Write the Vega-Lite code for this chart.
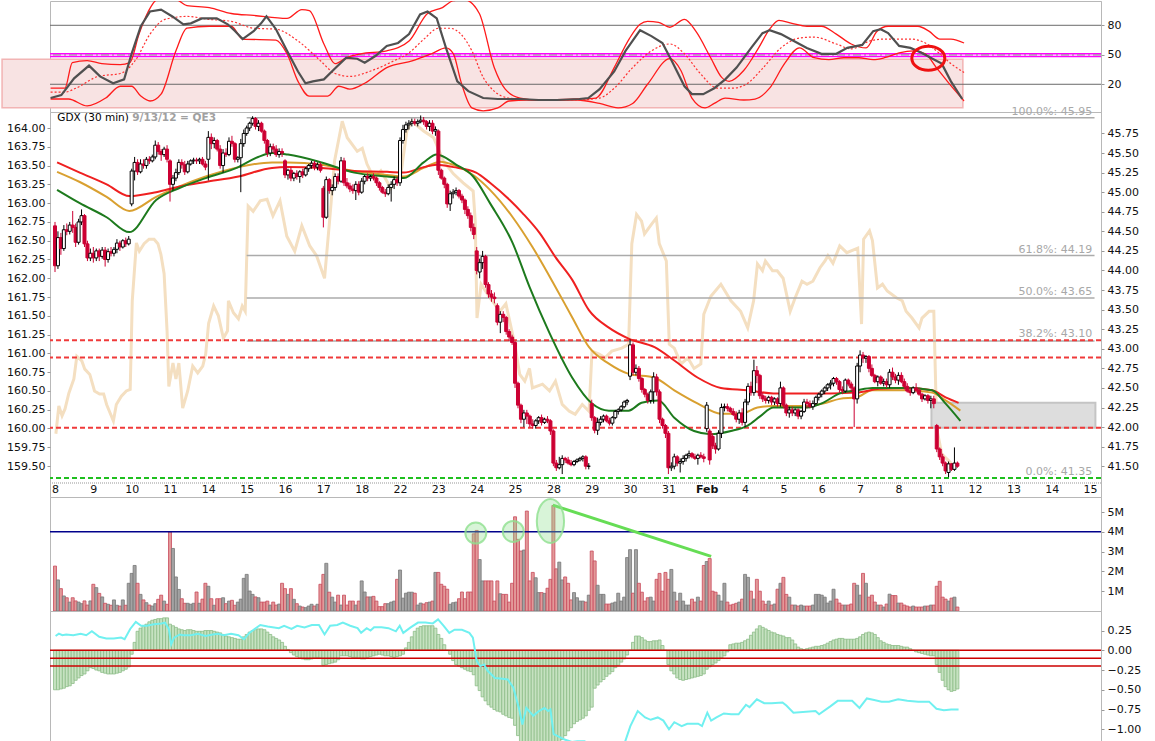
{
  "$schema": "https://vega.github.io/schema/vega-lite/v6.json",
  "padding": 0,
  "spacing": 0,
  "bounds": "flush",
  "background": "white",
  "datasets": {
    "bars": [
      {"t":0,"o":44.57,"h":44.62,"l":43.98,"c":44.06,"v":2.27,"m":-0.5},
      {"t":1,"o":44.06,"h":44.5,"l":44.02,"c":44.42,"v":1.57,"m":-0.5},
      {"t":2,"o":44.42,"h":44.48,"l":44.2,"c":44.28,"v":1.13,"m":-0.49},
      {"t":3,"o":44.28,"h":44.58,"l":44.25,"c":44.52,"v":0.76,"m":-0.48},
      {"t":4,"o":44.52,"h":44.6,"l":44.45,"c":44.5,"v":0.67,"m":-0.46},
      {"t":5,"o":44.5,"h":44.62,"l":44.46,"c":44.58,"v":0.45,"m":-0.45},
      {"t":6,"o":44.58,"h":44.76,"l":44.48,"c":44.55,"v":0.67,"m":-0.42},
      {"t":7,"o":44.55,"h":44.6,"l":44.3,"c":44.36,"v":0.51,"m":-0.38},
      {"t":8,"o":44.36,"h":44.66,"l":44.33,"c":44.62,"v":0.45,"m":-0.35},
      {"t":9,"o":44.62,"h":44.78,"l":44.58,"c":44.7,"v":0.37,"m":-0.32},
      {"t":10,"o":44.7,"h":44.72,"l":44.3,"c":44.34,"v":0.51,"m":-0.3},
      {"t":11,"o":44.34,"h":44.38,"l":44.12,"c":44.16,"v":0.3,"m":-0.26},
      {"t":12,"o":44.16,"h":44.28,"l":44.12,"c":44.22,"v":0.51,"m":-0.22},
      {"t":13,"o":44.22,"h":44.3,"l":44.1,"c":44.16,"v":1.35,"m":-0.23},
      {"t":14,"o":44.16,"h":44.28,"l":44.12,"c":44.25,"v":1.18,"m":-0.25},
      {"t":15,"o":44.25,"h":44.28,"l":44.12,"c":44.18,"v":0.89,"m":-0.26},
      {"t":16,"o":44.18,"h":44.3,"l":44.15,"c":44.26,"v":0.71,"m":-0.28},
      {"t":17,"o":44.26,"h":44.3,"l":44.05,"c":44.14,"v":0.39,"m":-0.29},
      {"t":18,"o":44.14,"h":44.28,"l":44.1,"c":44.24,"v":0.34,"m":-0.3},
      {"t":19,"o":44.24,"h":44.3,"l":44.18,"c":44.22,"v":0.29,"m":-0.3},
      {"t":20,"o":44.22,"h":44.3,"l":44.18,"c":44.27,"v":0.56,"m":-0.3},
      {"t":21,"o":44.27,"h":44.4,"l":44.22,"c":44.35,"v":0.29,"m":-0.29},
      {"t":22,"o":44.35,"h":44.38,"l":44.25,"c":44.3,"v":0.25,"m":-0.28},
      {"t":23,"o":44.3,"h":44.4,"l":44.28,"c":44.38,"v":0.56,"m":-0.26},
      {"t":24,"o":44.38,"h":44.42,"l":44.3,"c":44.34,"v":0.29,"m":-0.24},
      {"t":25,"o":44.34,"h":44.44,"l":44.32,"c":44.4,"v":1.4,"m":-0.21},
      {"t":26,"o":44.85,"h":45.3,"l":44.82,"c":45.27,"v":1.9,"m":-0.05},
      {"t":27,"o":45.27,"h":45.45,"l":45.15,"c":45.38,"v":2.3,"m":0.1},
      {"t":28,"o":45.38,"h":45.42,"l":45.22,"c":45.26,"v":1.4,"m":0.24},
      {"t":29,"o":45.26,"h":45.42,"l":45.24,"c":45.36,"v":0.84,"m":0.28},
      {"t":30,"o":45.36,"h":45.42,"l":45.3,"c":45.34,"v":0.56,"m":0.31},
      {"t":31,"o":45.34,"h":45.45,"l":45.3,"c":45.42,"v":0.42,"m":0.33},
      {"t":32,"o":45.42,"h":45.46,"l":45.36,"c":45.4,"v":0.3,"m":0.36},
      {"t":33,"o":45.4,"h":45.48,"l":45.38,"c":45.45,"v":0.25,"m":0.38},
      {"t":34,"o":45.45,"h":45.66,"l":45.42,"c":45.6,"v":0.37,"m":0.39},
      {"t":35,"o":45.6,"h":45.64,"l":45.48,"c":45.52,"v":0.59,"m":0.4},
      {"t":36,"o":45.52,"h":45.55,"l":45.4,"c":45.48,"v":0.8,"m":0.4},
      {"t":37,"o":45.48,"h":45.58,"l":45.45,"c":45.55,"v":0.5,"m":0.41},
      {"t":38,"o":45.55,"h":45.6,"l":45.38,"c":45.42,"v":0.34,"m":0.41},
      {"t":39,"o":45.4,"h":45.42,"l":44.88,"c":45.1,"v":4.0,"m":0.33},
      {"t":40,"o":45.1,"h":45.22,"l":45.02,"c":45.18,"v":3.16,"m":0.31},
      {"t":41,"o":45.18,"h":45.3,"l":45.14,"c":45.25,"v":1.72,"m":0.29},
      {"t":42,"o":45.25,"h":45.42,"l":45.22,"c":45.38,"v":1.09,"m":0.27},
      {"t":43,"o":45.38,"h":45.42,"l":45.3,"c":45.35,"v":0.62,"m":0.26},
      {"t":44,"o":45.35,"h":45.4,"l":45.22,"c":45.26,"v":0.39,"m":0.25},
      {"t":45,"o":45.26,"h":45.4,"l":45.24,"c":45.36,"v":0.39,"m":0.26},
      {"t":46,"o":45.36,"h":45.42,"l":45.34,"c":45.4,"v":0.34,"m":0.26},
      {"t":47,"o":45.4,"h":45.44,"l":45.36,"c":45.41,"v":0.39,"m":0.25},
      {"t":48,"o":45.41,"h":45.44,"l":45.36,"c":45.4,"v":0.96,"m":0.24},
      {"t":49,"o":45.4,"h":45.44,"l":45.36,"c":45.42,"v":0.39,"m":0.24},
      {"t":50,"o":45.42,"h":45.45,"l":45.34,"c":45.36,"v":0.6,"m":0.24},
      {"t":51,"o":45.36,"h":45.4,"l":45.28,"c":45.32,"v":1.4,"m":0.25},
      {"t":52,"o":45.42,"h":45.78,"l":45.15,"c":45.7,"v":1.25,"m":0.25},
      {"t":53,"o":45.7,"h":45.75,"l":45.55,"c":45.62,"v":0.62,"m":0.25},
      {"t":54,"o":45.62,"h":45.7,"l":45.56,"c":45.66,"v":0.29,"m":0.24},
      {"t":55,"o":45.66,"h":45.68,"l":45.52,"c":45.55,"v":0.62,"m":0.23},
      {"t":56,"o":45.55,"h":45.6,"l":45.3,"c":45.34,"v":0.62,"m":0.22},
      {"t":57,"o":45.34,"h":45.55,"l":45.25,"c":45.5,"v":0.67,"m":0.2},
      {"t":58,"o":45.5,"h":45.56,"l":45.45,"c":45.48,"v":0.37,"m":0.18},
      {"t":59,"o":45.48,"h":45.7,"l":45.46,"c":45.65,"v":0.5,"m":0.17},
      {"t":60,"o":45.65,"h":45.72,"l":45.58,"c":45.62,"v":0.54,"m":0.16},
      {"t":61,"o":45.62,"h":45.64,"l":45.38,"c":45.42,"v":0.29,"m":0.15},
      {"t":62,"o":45.42,"h":45.46,"l":45.38,"c":45.44,"v":0.45,"m":0.14},
      {"t":63,"o":45.44,"h":45.68,"l":45.0,"c":45.62,"v":0.6,"m":0.14},
      {"t":64,"o":45.62,"h":45.8,"l":45.58,"c":45.75,"v":1.65,"m":0.17},
      {"t":65,"o":45.75,"h":45.85,"l":45.72,"c":45.82,"v":1.85,"m":0.2},
      {"t":66,"o":45.82,"h":45.9,"l":45.78,"c":45.88,"v":1.01,"m":0.23},
      {"t":67,"o":45.88,"h":45.97,"l":45.85,"c":45.94,"v":0.84,"m":0.25},
      {"t":68,"o":45.94,"h":45.96,"l":45.8,"c":45.84,"v":0.71,"m":0.26},
      {"t":69,"o":45.84,"h":45.92,"l":45.78,"c":45.88,"v":0.67,"m":0.27},
      {"t":70,"o":45.88,"h":45.9,"l":45.76,"c":45.78,"v":0.45,"m":0.27},
      {"t":71,"o":45.78,"h":45.8,"l":45.62,"c":45.66,"v":0.45,"m":0.26},
      {"t":72,"o":45.66,"h":45.68,"l":45.45,"c":45.5,"v":0.5,"m":0.23},
      {"t":73,"o":45.5,"h":45.62,"l":45.46,"c":45.58,"v":0.3,"m":0.2},
      {"t":74,"o":45.58,"h":45.62,"l":45.5,"c":45.55,"v":0.45,"m":0.17},
      {"t":75,"o":45.55,"h":45.6,"l":45.45,"c":45.48,"v":0.3,"m":0.15},
      {"t":76,"o":45.48,"h":45.56,"l":45.44,"c":45.52,"v":0.35,"m":0.13},
      {"t":77,"o":45.52,"h":45.56,"l":45.45,"c":45.5,"v":1.4,"m":0.1},
      {"t":78,"o":45.4,"h":45.42,"l":45.18,"c":45.22,"v":1.13,"m":0.05},
      {"t":79,"o":45.22,"h":45.3,"l":45.16,"c":45.28,"v":0.84,"m":0.01},
      {"t":80,"o":45.28,"h":45.32,"l":45.14,"c":45.18,"v":1.13,"m":-0.03},
      {"t":81,"o":45.18,"h":45.26,"l":45.14,"c":45.24,"v":0.59,"m":-0.06},
      {"t":82,"o":45.24,"h":45.28,"l":45.16,"c":45.2,"v":0.37,"m":-0.08},
      {"t":83,"o":45.2,"h":45.28,"l":45.12,"c":45.26,"v":0.25,"m":-0.1},
      {"t":84,"o":45.26,"h":45.3,"l":45.18,"c":45.22,"v":0.2,"m":-0.11},
      {"t":85,"o":45.22,"h":45.32,"l":45.2,"c":45.3,"v":0.17,"m":-0.12},
      {"t":86,"o":45.3,"h":45.36,"l":45.26,"c":45.34,"v":0.25,"m":-0.12},
      {"t":87,"o":45.34,"h":45.4,"l":45.3,"c":45.37,"v":0.34,"m":-0.11},
      {"t":88,"o":45.37,"h":45.4,"l":45.28,"c":45.32,"v":0.25,"m":-0.1},
      {"t":89,"o":45.32,"h":45.38,"l":45.28,"c":45.35,"v":0.34,"m":-0.09},
      {"t":90,"o":45.35,"h":45.38,"l":45.25,"c":45.28,"v":1.35,"m":-0.1},
      {"t":91,"o":45.05,"h":45.08,"l":44.55,"c":44.68,"v":1.85,"m":-0.19},
      {"t":92,"o":44.68,"h":45.2,"l":44.66,"c":45.16,"v":2.41,"m":-0.18},
      {"t":93,"o":45.16,"h":45.18,"l":44.98,"c":45.02,"v":0.95,"m":-0.17},
      {"t":94,"o":45.02,"h":45.1,"l":44.96,"c":45.06,"v":0.7,"m":-0.16},
      {"t":95,"o":45.06,"h":45.24,"l":45.02,"c":45.2,"v":0.45,"m":-0.15},
      {"t":96,"o":45.2,"h":45.24,"l":45.1,"c":45.14,"v":0.8,"m":-0.12},
      {"t":97,"o":45.14,"h":45.45,"l":45.12,"c":45.4,"v":0.3,"m":-0.07},
      {"t":98,"o":45.4,"h":45.44,"l":45.08,"c":45.12,"v":0.8,"m":-0.07},
      {"t":99,"o":45.12,"h":45.18,"l":45.05,"c":45.08,"v":0.3,"m":-0.07},
      {"t":100,"o":45.08,"h":45.12,"l":45.0,"c":45.04,"v":0.5,"m":-0.08},
      {"t":101,"o":45.04,"h":45.1,"l":44.98,"c":45.02,"v":0.5,"m":-0.09},
      {"t":102,"o":45.02,"h":45.14,"l":44.9,"c":45.1,"v":0.3,"m":-0.09},
      {"t":103,"o":45.1,"h":45.14,"l":44.96,"c":45.0,"v":0.5,"m":-0.1},
      {"t":104,"o":45.0,"h":45.18,"l":44.98,"c":45.14,"v":1.52,"m":-0.11},
      {"t":105,"o":45.14,"h":45.22,"l":45.1,"c":45.2,"v":0.96,"m":-0.11},
      {"t":106,"o":45.2,"h":45.24,"l":45.14,"c":45.18,"v":0.71,"m":-0.09},
      {"t":107,"o":45.18,"h":45.22,"l":45.14,"c":45.2,"v":0.71,"m":-0.08},
      {"t":108,"o":45.2,"h":45.24,"l":45.15,"c":45.18,"v":0.74,"m":-0.07},
      {"t":109,"o":45.18,"h":45.2,"l":45.08,"c":45.12,"v":0.5,"m":-0.06},
      {"t":110,"o":45.12,"h":45.14,"l":45.02,"c":45.06,"v":0.22,"m":-0.05},
      {"t":111,"o":45.06,"h":45.08,"l":44.98,"c":45.0,"v":0.22,"m":-0.06},
      {"t":112,"o":45.0,"h":45.04,"l":44.94,"c":44.98,"v":0.37,"m":-0.07},
      {"t":113,"o":44.98,"h":45.1,"l":44.96,"c":45.06,"v":0.37,"m":-0.07},
      {"t":114,"o":45.06,"h":45.14,"l":44.88,"c":45.1,"v":0.45,"m":-0.08},
      {"t":115,"o":45.1,"h":45.2,"l":45.04,"c":45.16,"v":0.5,"m":-0.09},
      {"t":116,"o":45.16,"h":45.2,"l":45.08,"c":45.12,"v":1.6,"m":-0.08},
      {"t":117,"o":45.12,"h":45.7,"l":45.08,"c":45.66,"v":2.07,"m":-0.07},
      {"t":118,"o":45.66,"h":45.86,"l":45.62,"c":45.8,"v":0.65,"m":-0.05},
      {"t":119,"o":45.8,"h":45.9,"l":45.76,"c":45.86,"v":0.9,"m":0.03},
      {"t":120,"o":45.86,"h":45.92,"l":45.8,"c":45.88,"v":0.95,"m":0.1},
      {"t":121,"o":45.88,"h":45.94,"l":45.84,"c":45.9,"v":0.95,"m":0.17},
      {"t":122,"o":45.9,"h":45.94,"l":45.85,"c":45.88,"v":0.9,"m":0.24},
      {"t":123,"o":45.88,"h":45.93,"l":45.84,"c":45.9,"v":0.3,"m":0.28},
      {"t":124,"o":45.9,"h":45.98,"l":45.88,"c":45.92,"v":0.4,"m":0.3},
      {"t":125,"o":45.92,"h":45.96,"l":45.86,"c":45.9,"v":0.35,"m":0.31},
      {"t":126,"o":45.9,"h":45.92,"l":45.8,"c":45.84,"v":0.42,"m":0.31},
      {"t":127,"o":45.84,"h":45.92,"l":45.78,"c":45.88,"v":0.45,"m":0.31},
      {"t":128,"o":45.88,"h":45.92,"l":45.74,"c":45.78,"v":0.5,"m":0.31},
      {"t":129,"o":45.78,"h":45.84,"l":45.72,"c":45.8,"v":1.95,"m":0.28},
      {"t":130,"o":45.78,"h":45.8,"l":45.22,"c":45.28,"v":1.95,"m":0.2},
      {"t":131,"o":45.28,"h":45.3,"l":45.16,"c":45.18,"v":1.35,"m":0.15},
      {"t":132,"o":45.18,"h":45.2,"l":45.05,"c":45.1,"v":1.25,"m":0.07},
      {"t":133,"o":45.1,"h":45.12,"l":44.8,"c":44.85,"v":1.1,"m":0.0},
      {"t":134,"o":44.85,"h":45.02,"l":44.76,"c":44.98,"v":0.34,"m":-0.05},
      {"t":135,"o":44.98,"h":45.04,"l":44.92,"c":45.0,"v":0.42,"m":-0.13},
      {"t":136,"o":45.0,"h":45.06,"l":44.96,"c":45.02,"v":0.45,"m":-0.18},
      {"t":137,"o":45.02,"h":45.04,"l":44.92,"c":44.95,"v":0.62,"m":-0.2},
      {"t":138,"o":44.95,"h":44.98,"l":44.86,"c":44.9,"v":0.96,"m":-0.22},
      {"t":139,"o":44.9,"h":44.92,"l":44.72,"c":44.78,"v":0.62,"m":-0.24},
      {"t":140,"o":44.78,"h":44.82,"l":44.66,"c":44.7,"v":0.96,"m":-0.26},
      {"t":141,"o":44.7,"h":44.74,"l":44.5,"c":44.55,"v":0.96,"m":-0.27},
      {"t":142,"o":44.55,"h":44.6,"l":44.4,"c":44.46,"v":3.9,"m":-0.31},
      {"t":143,"o":44.25,"h":44.3,"l":43.95,"c":44.0,"v":4.07,"m":-0.45},
      {"t":144,"o":43.98,"h":44.15,"l":43.9,"c":44.1,"v":2.6,"m":-0.51},
      {"t":145,"o":44.1,"h":44.25,"l":44.02,"c":44.18,"v":1.52,"m":-0.59},
      {"t":146,"o":44.18,"h":44.2,"l":43.78,"c":43.82,"v":1.52,"m":-0.64},
      {"t":147,"o":43.82,"h":43.85,"l":43.65,"c":43.7,"v":1.52,"m":-0.69},
      {"t":148,"o":43.7,"h":43.75,"l":43.6,"c":43.66,"v":1.52,"m":-0.72},
      {"t":149,"o":43.66,"h":43.72,"l":43.58,"c":43.64,"v":0.5,"m":-0.75},
      {"t":150,"o":43.55,"h":43.58,"l":43.3,"c":43.34,"v":1.52,"m":-0.77},
      {"t":151,"o":43.34,"h":43.48,"l":43.2,"c":43.44,"v":0.87,"m":-0.78},
      {"t":152,"o":43.44,"h":43.48,"l":43.34,"c":43.4,"v":0.84,"m":-0.81},
      {"t":153,"o":43.4,"h":43.42,"l":43.18,"c":43.22,"v":0.84,"m":-0.83},
      {"t":154,"o":43.22,"h":43.25,"l":43.1,"c":43.15,"v":0.45,"m":-0.85},
      {"t":155,"o":43.15,"h":43.18,"l":43.05,"c":43.08,"v":1.4,"m":-0.86},
      {"t":156,"o":43.08,"h":43.1,"l":42.5,"c":42.56,"v":4.76,"m":-0.95},
      {"t":157,"o":42.56,"h":42.58,"l":42.24,"c":42.28,"v":3.62,"m":-1.08},
      {"t":158,"o":42.28,"h":42.3,"l":42.05,"c":42.1,"v":3.03,"m":-1.16},
      {"t":159,"o":42.1,"h":42.22,"l":42.0,"c":42.18,"v":3.08,"m":-1.22},
      {"t":160,"o":42.18,"h":42.22,"l":42.04,"c":42.14,"v":5.05,"m":-1.26},
      {"t":161,"o":42.14,"h":42.16,"l":42.0,"c":42.04,"v":1.52,"m":-1.28},
      {"t":162,"o":42.04,"h":42.1,"l":41.98,"c":42.02,"v":1.95,"m":-1.29},
      {"t":163,"o":42.02,"h":42.1,"l":41.98,"c":42.08,"v":1.68,"m":-1.3},
      {"t":164,"o":42.08,"h":42.14,"l":42.04,"c":42.12,"v":0.93,"m":-1.3},
      {"t":165,"o":42.12,"h":42.16,"l":42.02,"c":42.06,"v":0.93,"m":-1.29},
      {"t":166,"o":42.06,"h":42.12,"l":42.04,"c":42.1,"v":0.89,"m":-1.28},
      {"t":167,"o":42.1,"h":42.14,"l":42.05,"c":42.08,"v":1.15,"m":-1.27},
      {"t":168,"o":42.08,"h":42.1,"l":41.9,"c":41.95,"v":1.6,"m":-1.26},
      {"t":169,"o":41.95,"h":41.97,"l":41.5,"c":41.54,"v":5.33,"m":-1.26},
      {"t":170,"o":41.54,"h":41.58,"l":41.44,"c":41.48,"v":2.13,"m":-1.24},
      {"t":171,"o":41.48,"h":41.62,"l":41.46,"c":41.52,"v":2.47,"m":-1.2},
      {"t":172,"o":41.52,"h":41.64,"l":41.4,"c":41.6,"v":1.57,"m":-1.13},
      {"t":173,"o":41.6,"h":41.62,"l":41.54,"c":41.58,"v":1.72,"m":-1.08},
      {"t":174,"o":41.58,"h":41.62,"l":41.52,"c":41.54,"v":1.4,"m":-1.02},
      {"t":175,"o":41.54,"h":41.58,"l":41.5,"c":41.52,"v":0.56,"m":-0.98},
      {"t":176,"o":41.52,"h":41.58,"l":41.5,"c":41.56,"v":0.93,"m":-0.93},
      {"t":177,"o":41.56,"h":41.6,"l":41.54,"c":41.58,"v":0.67,"m":-0.9},
      {"t":178,"o":41.58,"h":41.62,"l":41.56,"c":41.6,"v":0.5,"m":-0.88},
      {"t":179,"o":41.6,"h":41.64,"l":41.56,"c":41.62,"v":0.5,"m":-0.86},
      {"t":180,"o":41.62,"h":41.64,"l":41.46,"c":41.5,"v":0.45,"m":-0.83},
      {"t":181,"o":41.5,"h":41.54,"l":41.46,"c":41.5,"v":0.8,"m":-0.76},
      {"t":182,"o":42.3,"h":42.35,"l":42.08,"c":42.12,"v":3.03,"m":-0.72},
      {"t":183,"o":42.12,"h":42.14,"l":41.92,"c":41.96,"v":2.53,"m":-0.48},
      {"t":184,"o":41.96,"h":42.12,"l":41.9,"c":42.06,"v":1.3,"m":-0.44},
      {"t":185,"o":42.06,"h":42.14,"l":42.02,"c":42.1,"v":0.84,"m":-0.4},
      {"t":186,"o":42.1,"h":42.16,"l":42.06,"c":42.14,"v":0.84,"m":-0.37},
      {"t":187,"o":42.14,"h":42.16,"l":42.06,"c":42.08,"v":0.35,"m":-0.33},
      {"t":188,"o":42.08,"h":42.12,"l":42.02,"c":42.05,"v":0.35,"m":-0.3},
      {"t":189,"o":42.05,"h":42.14,"l":42.02,"c":42.12,"v":0.4,"m":-0.27},
      {"t":190,"o":42.12,"h":42.22,"l":42.1,"c":42.2,"v":0.45,"m":-0.22},
      {"t":191,"o":42.2,"h":42.24,"l":42.16,"c":42.22,"v":0.9,"m":-0.19},
      {"t":192,"o":42.22,"h":42.28,"l":42.2,"c":42.26,"v":0.5,"m":-0.15},
      {"t":193,"o":42.26,"h":42.34,"l":42.24,"c":42.32,"v":0.7,"m":-0.11},
      {"t":194,"o":42.32,"h":42.36,"l":42.28,"c":42.34,"v":2.7,"m":-0.06},
      {"t":195,"o":42.65,"h":43.12,"l":42.6,"c":43.05,"v":3.1,"m":0.0},
      {"t":196,"o":43.05,"h":43.08,"l":42.66,"c":42.7,"v":0.9,"m":0.1},
      {"t":197,"o":42.7,"h":42.8,"l":42.66,"c":42.75,"v":3.1,"m":0.18},
      {"t":198,"o":42.75,"h":42.78,"l":42.58,"c":42.62,"v":1.4,"m":0.18},
      {"t":199,"o":42.62,"h":42.64,"l":42.44,"c":42.48,"v":0.95,"m":0.16},
      {"t":200,"o":42.48,"h":42.5,"l":42.38,"c":42.42,"v":0.5,"m":0.13},
      {"t":201,"o":42.42,"h":42.44,"l":42.3,"c":42.34,"v":0.67,"m":0.11},
      {"t":202,"o":42.34,"h":42.48,"l":42.3,"c":42.45,"v":0.7,"m":0.11},
      {"t":203,"o":42.45,"h":42.7,"l":42.3,"c":42.64,"v":0.5,"m":0.12},
      {"t":204,"o":42.64,"h":42.68,"l":42.4,"c":42.45,"v":1.6,"m":0.12},
      {"t":205,"o":42.45,"h":42.48,"l":42.05,"c":42.1,"v":1.9,"m":0.13},
      {"t":206,"o":42.1,"h":42.12,"l":41.98,"c":42.02,"v":1.0,"m":0.06},
      {"t":207,"o":42.02,"h":42.04,"l":41.86,"c":41.92,"v":1.95,"m":0.0},
      {"t":208,"o":41.92,"h":41.95,"l":41.4,"c":41.48,"v":1.6,"m":-0.18},
      {"t":209,"o":41.48,"h":41.55,"l":41.44,"c":41.5,"v":2.1,"m":-0.26},
      {"t":210,"o":41.5,"h":41.66,"l":41.46,"c":41.62,"v":0.95,"m":-0.3},
      {"t":211,"o":41.62,"h":41.64,"l":41.5,"c":41.54,"v":0.5,"m":-0.35},
      {"t":212,"o":41.54,"h":41.6,"l":41.42,"c":41.56,"v":0.9,"m":-0.37},
      {"t":213,"o":41.56,"h":41.64,"l":41.52,"c":41.6,"v":0.5,"m":-0.38},
      {"t":214,"o":41.6,"h":41.66,"l":41.56,"c":41.64,"v":0.3,"m":-0.37},
      {"t":215,"o":41.64,"h":41.7,"l":41.6,"c":41.66,"v":0.3,"m":-0.36},
      {"t":216,"o":41.66,"h":41.68,"l":41.6,"c":41.62,"v":0.6,"m":-0.35},
      {"t":217,"o":41.62,"h":41.66,"l":41.58,"c":41.6,"v":0.45,"m":-0.34},
      {"t":218,"o":41.6,"h":41.66,"l":41.52,"c":41.64,"v":0.7,"m":-0.33},
      {"t":219,"o":41.64,"h":41.68,"l":41.6,"c":41.62,"v":0.5,"m":-0.32},
      {"t":220,"o":41.62,"h":41.66,"l":41.55,"c":41.6,"v":2.3,"m":-0.3},
      {"t":221,"o":41.98,"h":42.32,"l":41.94,"c":42.28,"v":2.5,"m":-0.24},
      {"t":222,"o":41.95,"h":41.98,"l":41.52,"c":41.58,"v":2.65,"m":-0.21},
      {"t":223,"o":41.88,"h":41.92,"l":41.72,"c":41.76,"v":1.0,"m":-0.18},
      {"t":224,"o":41.76,"h":41.8,"l":41.66,"c":41.72,"v":0.95,"m":-0.16},
      {"t":225,"o":41.72,"h":41.96,"l":41.7,"c":41.92,"v":0.8,"m":-0.13},
      {"t":226,"o":41.92,"h":42.3,"l":41.86,"c":42.25,"v":0.5,"m":-0.1},
      {"t":227,"o":42.25,"h":42.3,"l":42.2,"c":42.26,"v":1.4,"m":-0.07},
      {"t":228,"o":42.26,"h":42.3,"l":42.2,"c":42.24,"v":0.45,"m":-0.02},
      {"t":229,"o":42.24,"h":42.26,"l":42.18,"c":42.2,"v":0.3,"m":0.07},
      {"t":230,"o":42.2,"h":42.24,"l":42.14,"c":42.16,"v":0.34,"m":0.08},
      {"t":231,"o":42.16,"h":42.2,"l":42.06,"c":42.1,"v":0.39,"m":0.09},
      {"t":232,"o":42.1,"h":42.22,"l":42.04,"c":42.18,"v":0.45,"m":0.09},
      {"t":233,"o":42.18,"h":42.24,"l":42.02,"c":42.06,"v":0.6,"m":0.1},
      {"t":234,"o":42.06,"h":42.36,"l":42.0,"c":42.32,"v":1.85,"m":0.12},
      {"t":235,"o":42.32,"h":42.56,"l":42.28,"c":42.52,"v":1.7,"m":0.14},
      {"t":236,"o":42.52,"h":42.58,"l":42.4,"c":42.44,"v":1.0,"m":0.19},
      {"t":237,"o":42.44,"h":42.86,"l":42.4,"c":42.72,"v":0.6,"m":0.23},
      {"t":238,"o":42.72,"h":42.78,"l":42.56,"c":42.66,"v":1.6,"m":0.27},
      {"t":239,"o":42.66,"h":42.68,"l":42.36,"c":42.4,"v":1.0,"m":0.31},
      {"t":240,"o":42.4,"h":42.44,"l":42.32,"c":42.36,"v":0.5,"m":0.29},
      {"t":241,"o":42.36,"h":42.4,"l":42.3,"c":42.34,"v":0.34,"m":0.27},
      {"t":242,"o":42.34,"h":42.4,"l":42.3,"c":42.38,"v":0.5,"m":0.25},
      {"t":243,"o":42.38,"h":42.4,"l":42.28,"c":42.32,"v":0.3,"m":0.23},
      {"t":244,"o":42.32,"h":42.38,"l":42.28,"c":42.36,"v":0.35,"m":0.22},
      {"t":245,"o":42.36,"h":42.38,"l":42.26,"c":42.3,"v":1.1,"m":0.2},
      {"t":246,"o":42.3,"h":42.58,"l":42.26,"c":42.5,"v":1.4,"m":0.19},
      {"t":247,"o":42.5,"h":42.52,"l":42.24,"c":42.28,"v":1.7,"m":0.18},
      {"t":248,"o":42.28,"h":42.3,"l":42.14,"c":42.18,"v":0.84,"m":0.16},
      {"t":249,"o":42.18,"h":42.26,"l":42.12,"c":42.22,"v":0.7,"m":0.16},
      {"t":250,"o":42.22,"h":42.26,"l":42.14,"c":42.18,"v":0.3,"m":0.13},
      {"t":251,"o":42.18,"h":42.24,"l":42.14,"c":42.22,"v":0.3,"m":0.08},
      {"t":252,"o":42.22,"h":42.24,"l":42.1,"c":42.14,"v":0.25,"m":0.04},
      {"t":253,"o":42.14,"h":42.22,"l":42.1,"c":42.2,"v":0.3,"m":0.02},
      {"t":254,"o":42.2,"h":42.36,"l":42.18,"c":42.32,"v":0.25,"m":0.01},
      {"t":255,"o":42.32,"h":42.36,"l":42.24,"c":42.3,"v":0.25,"m":0.02},
      {"t":256,"o":42.3,"h":42.34,"l":42.24,"c":42.26,"v":0.25,"m":0.03},
      {"t":257,"o":42.26,"h":42.34,"l":42.22,"c":42.3,"v":0.3,"m":0.04},
      {"t":258,"o":42.3,"h":42.4,"l":42.28,"c":42.38,"v":0.84,"m":0.05},
      {"t":259,"o":42.38,"h":42.44,"l":42.34,"c":42.42,"v":0.84,"m":0.05},
      {"t":260,"o":42.42,"h":42.48,"l":42.38,"c":42.46,"v":0.8,"m":0.06},
      {"t":261,"o":42.46,"h":42.52,"l":42.42,"c":42.5,"v":0.7,"m":0.07},
      {"t":262,"o":42.5,"h":42.56,"l":42.46,"c":42.54,"v":0.4,"m":0.09},
      {"t":263,"o":42.54,"h":42.6,"l":42.48,"c":42.56,"v":0.5,"m":0.11},
      {"t":264,"o":42.56,"h":42.64,"l":42.52,"c":42.62,"v":1.1,"m":0.13},
      {"t":265,"o":42.62,"h":42.64,"l":42.54,"c":42.58,"v":0.6,"m":0.14},
      {"t":266,"o":42.58,"h":42.6,"l":42.44,"c":42.48,"v":0.4,"m":0.15},
      {"t":267,"o":42.48,"h":42.52,"l":42.42,"c":42.46,"v":0.3,"m":0.15},
      {"t":268,"o":42.46,"h":42.62,"l":42.44,"c":42.6,"v":0.3,"m":0.14},
      {"t":269,"o":42.6,"h":42.62,"l":42.52,"c":42.55,"v":0.3,"m":0.14},
      {"t":270,"o":42.55,"h":42.58,"l":42.46,"c":42.5,"v":0.35,"m":0.14},
      {"t":271,"o":42.5,"h":42.52,"l":42.0,"c":42.36,"v":1.4,"m":0.14},
      {"t":272,"o":42.36,"h":42.82,"l":42.3,"c":42.78,"v":1.3,"m":0.15},
      {"t":273,"o":42.78,"h":42.98,"l":42.7,"c":42.92,"v":0.8,"m":0.17},
      {"t":274,"o":42.92,"h":42.96,"l":42.82,"c":42.88,"v":1.9,"m":0.2},
      {"t":275,"o":42.88,"h":42.92,"l":42.82,"c":42.9,"v":1.4,"m":0.22},
      {"t":276,"o":42.9,"h":42.92,"l":42.7,"c":42.75,"v":0.7,"m":0.23},
      {"t":277,"o":42.75,"h":42.8,"l":42.64,"c":42.66,"v":0.8,"m":0.22},
      {"t":278,"o":42.66,"h":42.68,"l":42.56,"c":42.58,"v":0.45,"m":0.2},
      {"t":279,"o":42.58,"h":42.66,"l":42.52,"c":42.64,"v":0.3,"m":0.16},
      {"t":280,"o":42.64,"h":42.66,"l":42.54,"c":42.56,"v":0.3,"m":0.12},
      {"t":281,"o":42.56,"h":42.62,"l":42.52,"c":42.58,"v":0.2,"m":0.1},
      {"t":282,"o":42.58,"h":42.62,"l":42.5,"c":42.54,"v":0.35,"m":0.08},
      {"t":283,"o":42.54,"h":42.74,"l":42.5,"c":42.7,"v":0.85,"m":0.07},
      {"t":284,"o":42.7,"h":42.76,"l":42.6,"c":42.64,"v":0.78,"m":0.06},
      {"t":285,"o":42.64,"h":42.68,"l":42.56,"c":42.6,"v":0.78,"m":0.06},
      {"t":286,"o":42.6,"h":42.7,"l":42.54,"c":42.66,"v":0.4,"m":0.06},
      {"t":287,"o":42.66,"h":42.7,"l":42.56,"c":42.58,"v":0.4,"m":0.05},
      {"t":288,"o":42.58,"h":42.62,"l":42.48,"c":42.52,"v":0.3,"m":0.04},
      {"t":289,"o":42.52,"h":42.56,"l":42.44,"c":42.46,"v":0.25,"m":0.04},
      {"t":290,"o":42.46,"h":42.5,"l":42.4,"c":42.44,"v":0.2,"m":0.02},
      {"t":291,"o":42.44,"h":42.52,"l":42.42,"c":42.5,"v":0.25,"m":0.0},
      {"t":292,"o":42.5,"h":42.56,"l":42.44,"c":42.47,"v":0.2,"m":-0.02},
      {"t":293,"o":42.47,"h":42.5,"l":42.4,"c":42.42,"v":0.2,"m":-0.03},
      {"t":294,"o":42.42,"h":42.44,"l":42.32,"c":42.36,"v":0.2,"m":-0.04},
      {"t":295,"o":42.36,"h":42.42,"l":42.34,"c":42.4,"v":0.25,"m":-0.05},
      {"t":296,"o":42.4,"h":42.42,"l":42.3,"c":42.34,"v":0.25,"m":-0.06},
      {"t":297,"o":42.34,"h":42.4,"l":42.24,"c":42.36,"v":0.3,"m":-0.07},
      {"t":298,"o":42.36,"h":42.4,"l":42.24,"c":42.3,"v":0.3,"m":-0.07},
      {"t":299,"o":42.02,"h":42.04,"l":41.68,"c":41.72,"v":1.25,"m":-0.18},
      {"t":300,"o":41.72,"h":41.74,"l":41.58,"c":41.62,"v":1.5,"m":-0.28},
      {"t":301,"o":41.62,"h":41.66,"l":41.5,"c":41.54,"v":0.7,"m":-0.38},
      {"t":302,"o":41.54,"h":41.56,"l":41.4,"c":41.44,"v":0.6,"m":-0.46},
      {"t":303,"o":41.42,"h":41.56,"l":41.36,"c":41.53,"v":0.5,"m":-0.5},
      {"t":304,"o":41.53,"h":41.54,"l":41.44,"c":41.46,"v":0.65,"m":-0.52},
      {"t":305,"o":41.46,"h":41.74,"l":41.44,"c":41.54,"v":0.7,"m":-0.51},
      {"t":306,"o":41.54,"h":41.56,"l":41.48,"c":41.5,"v":0.2,"m":-0.49}
    ],
    "gold": [
      {"t":0.3,"g":159.93},{"t":1.3,"g":160.3},{"t":2.4,"g":160.17},{"t":3.4,"g":160.26},{"t":4.7,"g":160.47},{"t":6.4,"g":160.66},{"t":7.4,"g":160.96},{"t":9.1,"g":160.9},{"t":10.1,"g":160.79},{"t":11.8,"g":160.72},{"t":13.4,"g":160.5},{"t":15.1,"g":160.46},{"t":16.5,"g":160.46},{"t":17.5,"g":160.32},{"t":19.8,"g":160.1},{"t":20.8,"g":160.32},{"t":22.5,"g":160.43},{"t":24.2,"g":160.5},{"t":25.5,"g":160.52},{"t":26.2,"g":161.7},{"t":27.6,"g":162.47},{"t":28.6,"g":162.36},{"t":30.2,"g":162.46},{"t":31.9,"g":162.52},{"t":33.6,"g":162.52},{"t":34.9,"g":162.46},{"t":35.9,"g":162.32},{"t":37.0,"g":162.06},{"t":38.0,"g":161.3},{"t":38.6,"g":160.56},{"t":40.0,"g":160.87},{"t":41.0,"g":160.66},{"t":42.0,"g":160.87},{"t":43.3,"g":160.27},{"t":45.0,"g":160.5},{"t":46.7,"g":160.83},{"t":48.4,"g":160.74},{"t":50.1,"g":160.83},{"t":51.1,"g":160.99},{"t":52.1,"g":161.4},{"t":53.8,"g":161.63},{"t":55.4,"g":161.5},{"t":57.1,"g":161.2},{"t":58.5,"g":161.3},{"t":58.8,"g":161.7},{"t":60.5,"g":161.54},{"t":62.2,"g":161.46},{"t":63.5,"g":161.63},{"t":64.5,"g":161.56},{"t":65.5,"g":162.96},{"t":67.2,"g":162.89},{"t":69.6,"g":163.03},{"t":71.9,"g":163.05},{"t":73.9,"g":162.83},{"t":76.3,"g":163.03},{"t":78.6,"g":162.56},{"t":81.3,"g":162.36},{"t":83.7,"g":162.7},{"t":86.4,"g":162.43},{"t":88.7,"g":162.3},{"t":91.4,"g":162.0},{"t":93.1,"g":162.76},{"t":94.8,"g":163.56},{"t":97.4,"g":164.09},{"t":99.1,"g":163.87},{"t":102.5,"g":163.69},{"t":104.2,"g":163.73},{"t":105.8,"g":163.52},{"t":108.2,"g":163.33},{"t":110.5,"g":163.43},{"t":113.9,"g":163.2},{"t":117.3,"g":163.39},{"t":119.3,"g":163.96},{"t":121.0,"g":164.09},{"t":125.0,"g":163.96},{"t":128.4,"g":163.87},{"t":131.7,"g":163.56},{"t":135.1,"g":163.39},{"t":138.4,"g":163.27},{"t":141.8,"g":163.16},{"t":142.5,"g":162.76},{"t":143.1,"g":161.47},{"t":144.5,"g":161.92},{"t":147.5,"g":161.74},{"t":150.9,"g":161.56},{"t":152.9,"g":161.66},{"t":155.9,"g":161.12},{"t":157.6,"g":160.72},{"t":159.3,"g":160.63},{"t":160.9,"g":160.8},{"t":161.9,"g":160.54},{"t":165.3,"g":160.59},{"t":167.7,"g":160.5},{"t":169.7,"g":160.63},{"t":172.0,"g":160.32},{"t":174.4,"g":160.23},{"t":176.4,"g":160.19},{"t":178.8,"g":160.32},{"t":181.1,"g":160.23},{"t":182.1,"g":161.03},{"t":184.5,"g":160.99},{"t":186.5,"g":160.94},{"t":188.8,"g":161.03},{"t":192.2,"g":161.07},{"t":194.5,"g":161.12},{"t":195.6,"g":162.46},{"t":197.2,"g":162.85},{"t":198.9,"g":162.76},{"t":199.9,"g":162.59},{"t":202.3,"g":162.72},{"t":203.9,"g":162.8},{"t":204.9,"g":162.46},{"t":207.3,"g":162.23},{"t":208.3,"g":161.12},{"t":210.0,"g":161.07},{"t":212.3,"g":160.86},{"t":214.6,"g":160.94},{"t":216.7,"g":160.8},{"t":219.0,"g":160.86},{"t":220.0,"g":161.52},{"t":222.4,"g":161.76},{"t":225.8,"g":161.92},{"t":229.2,"g":161.7},{"t":232.5,"g":161.56},{"t":234.9,"g":161.34},{"t":236.9,"g":161.7},{"t":238.2,"g":162.19},{"t":239.9,"g":162.1},{"t":240.9,"g":162.23},{"t":243.3,"g":162.1},{"t":244.9,"g":162.1},{"t":246.9,"g":162.0},{"t":249.3,"g":161.56},{"t":251.0,"g":161.74},{"t":253.3,"g":161.96},{"t":255.0,"g":161.92},{"t":257.0,"g":161.96},{"t":259.4,"g":162.14},{"t":261.1,"g":162.23},{"t":262.1,"g":162.3},{"t":263.8,"g":162.2},{"t":266.1,"g":162.43},{"t":268.5,"g":162.34},{"t":272.2,"g":162.4},{"t":273.5,"g":161.39},{"t":274.2,"g":162.52},{"t":276.2,"g":162.63},{"t":277.2,"g":162.5},{"t":278.9,"g":161.87},{"t":280.6,"g":161.92},{"t":282.2,"g":161.83},{"t":285.3,"g":161.74},{"t":287.3,"g":161.7},{"t":288.6,"g":161.56},{"t":290.6,"g":161.47},{"t":293.0,"g":161.34},{"t":294.0,"g":161.47},{"t":296.4,"g":161.56},{"t":298.0,"g":161.56},{"t":299.0,"g":160.0},{"t":300.7,"g":159.66},{"t":303.1,"g":159.57},{"t":305.4,"g":159.47}
    ],
    "ma": [
      {"t":0.7,"p":45.38,"k":"R"},{"t":8.4,"p":45.25,"k":"R"},{"t":17.5,"p":45.1,"k":"R"},{"t":25.2,"p":44.95,"k":"R"},{"t":34.3,"p":45.0,"k":"R"},{"t":42.0,"p":45.07,"k":"R"},{"t":51.1,"p":45.13,"k":"R"},{"t":62.2,"p":45.2,"k":"R"},{"t":73.6,"p":45.31,"k":"R"},{"t":79.0,"p":45.32,"k":"R"},{"t":90.4,"p":45.31,"k":"R"},{"t":101.5,"p":45.27,"k":"R"},{"t":112.6,"p":45.26,"k":"R"},{"t":118.3,"p":45.25,"k":"R"},{"t":125.0,"p":45.32,"k":"R"},{"t":129.4,"p":45.35,"k":"R"},{"t":135.1,"p":45.32,"k":"R"},{"t":142.8,"p":45.25,"k":"R"},{"t":147.5,"p":45.12,"k":"R"},{"t":154.2,"p":44.9,"k":"R"},{"t":158.6,"p":44.73,"k":"R"},{"t":164.3,"p":44.48,"k":"R"},{"t":169.7,"p":44.17,"k":"R"},{"t":175.4,"p":43.88,"k":"R"},{"t":181.1,"p":43.49,"k":"R"},{"t":187.8,"p":43.27,"k":"R"},{"t":194.5,"p":43.13,"k":"R"},{"t":203.3,"p":43.02,"k":"R"},{"t":210.0,"p":42.85,"k":"R"},{"t":218.0,"p":42.63,"k":"R"},{"t":225.8,"p":42.5,"k":"R"},{"t":234.9,"p":42.47,"k":"R"},{"t":243.6,"p":42.43,"k":"R"},{"t":255.0,"p":42.43,"k":"R"},{"t":262.8,"p":42.43,"k":"R"},{"t":271.8,"p":42.44,"k":"R"},{"t":279.6,"p":42.49,"k":"R"},{"t":288.6,"p":42.5,"k":"R"},{"t":297.4,"p":42.47,"k":"R"},{"t":302.0,"p":42.38,"k":"R"},{"t":306.4,"p":42.31,"k":"R"},
      {"t":0.7,"p":45.26,"k":"O"},{"t":8.4,"p":45.13,"k":"O"},{"t":17.5,"p":44.94,"k":"O"},{"t":25.2,"p":44.76,"k":"O"},{"t":34.3,"p":44.94,"k":"O"},{"t":42.0,"p":45.07,"k":"O"},{"t":51.1,"p":45.2,"k":"O"},{"t":62.2,"p":45.32,"k":"O"},{"t":73.6,"p":45.38,"k":"O"},{"t":79.0,"p":45.38,"k":"O"},{"t":90.4,"p":45.35,"k":"O"},{"t":101.5,"p":45.27,"k":"O"},{"t":112.6,"p":45.22,"k":"O"},{"t":118.3,"p":45.2,"k":"O"},{"t":125.0,"p":45.31,"k":"O"},{"t":130.7,"p":45.39,"k":"O"},{"t":135.1,"p":45.35,"k":"O"},{"t":141.8,"p":45.22,"k":"O"},{"t":147.5,"p":45.03,"k":"O"},{"t":155.2,"p":44.68,"k":"O"},{"t":161.9,"p":44.3,"k":"O"},{"t":169.7,"p":43.79,"k":"O"},{"t":175.4,"p":43.4,"k":"O"},{"t":181.1,"p":43.02,"k":"O"},{"t":187.8,"p":42.81,"k":"O"},{"t":194.5,"p":42.68,"k":"O"},{"t":203.3,"p":42.63,"k":"O"},{"t":210.0,"p":42.47,"k":"O"},{"t":218.0,"p":42.3,"k":"O"},{"t":225.8,"p":42.17,"k":"O"},{"t":232.5,"p":42.17,"k":"O"},{"t":238.2,"p":42.25,"k":"O"},{"t":243.6,"p":42.27,"k":"O"},{"t":255.0,"p":42.27,"k":"O"},{"t":260.4,"p":42.3,"k":"O"},{"t":266.1,"p":42.36,"k":"O"},{"t":271.8,"p":42.38,"k":"O"},{"t":277.2,"p":42.47,"k":"O"},{"t":288.6,"p":42.47,"k":"O"},{"t":297.4,"p":42.44,"k":"O"},{"t":302.0,"p":42.34,"k":"O"},{"t":307.0,"p":42.21,"k":"O"},
      {"t":0.7,"p":45.03,"k":"G"},{"t":8.4,"p":44.86,"k":"G"},{"t":17.5,"p":44.68,"k":"G"},{"t":25.2,"p":44.49,"k":"G"},{"t":34.3,"p":44.9,"k":"G"},{"t":42.0,"p":45.05,"k":"G"},{"t":51.1,"p":45.18,"k":"G"},{"t":62.2,"p":45.32,"k":"G"},{"t":68.9,"p":45.45,"k":"G"},{"t":73.6,"p":45.5,"k":"G"},{"t":79.0,"p":45.48,"k":"G"},{"t":90.4,"p":45.38,"k":"G"},{"t":101.5,"p":45.25,"k":"G"},{"t":112.6,"p":45.2,"k":"G"},{"t":118.3,"p":45.18,"k":"G"},{"t":125.0,"p":45.38,"k":"G"},{"t":129.4,"p":45.48,"k":"G"},{"t":136.1,"p":45.35,"k":"G"},{"t":141.8,"p":45.2,"k":"G"},{"t":147.5,"p":44.86,"k":"G"},{"t":155.2,"p":44.35,"k":"G"},{"t":160.9,"p":43.79,"k":"G"},{"t":167.7,"p":43.2,"k":"G"},{"t":175.4,"p":42.63,"k":"G"},{"t":182.1,"p":42.3,"k":"G"},{"t":187.8,"p":42.21,"k":"G"},{"t":194.5,"p":42.21,"k":"G"},{"t":198.9,"p":42.31,"k":"G"},{"t":204.6,"p":42.34,"k":"G"},{"t":210.0,"p":42.12,"k":"G"},{"t":216.7,"p":41.95,"k":"G"},{"t":222.4,"p":41.91,"k":"G"},{"t":229.2,"p":41.95,"k":"G"},{"t":234.9,"p":42.02,"k":"G"},{"t":239.2,"p":42.14,"k":"G"},{"t":243.6,"p":42.25,"k":"G"},{"t":255.0,"p":42.25,"k":"G"},{"t":260.4,"p":42.31,"k":"G"},{"t":266.1,"p":42.43,"k":"G"},{"t":271.8,"p":42.47,"k":"G"},{"t":277.2,"p":42.5,"k":"G"},{"t":288.6,"p":42.5,"k":"G"},{"t":297.4,"p":42.47,"k":"G"},{"t":302.0,"p":42.3,"k":"G"},{"t":307.0,"p":42.08,"k":"G"}
    ],
    "stoch": [
      {"t":0.2,"v":6,"k":"K"},{"t":3.8,"v":9,"k":"K"},{"t":8.1,"v":26,"k":"K"},{"t":13.1,"v":39,"k":"K"},{"t":16.8,"v":28,"k":"K"},{"t":21.2,"v":21,"k":"K"},{"t":24.9,"v":25,"k":"K"},{"t":27.4,"v":51,"k":"K"},{"t":30.5,"v":79,"k":"K"},{"t":33.6,"v":94,"k":"K"},{"t":37.3,"v":96,"k":"K"},{"t":41.1,"v":89,"k":"K"},{"t":44.8,"v":81,"k":"K"},{"t":47.3,"v":82,"k":"K"},{"t":51,"v":87,"k":"K"},{"t":56,"v":87,"k":"K"},{"t":59.7,"v":81,"k":"K"},{"t":62.2,"v":74,"k":"K"},{"t":64.7,"v":66,"k":"K"},{"t":68.4,"v":74,"k":"K"},{"t":70.9,"v":82,"k":"K"},{"t":72.7,"v":89,"k":"K"},{"t":75.9,"v":76,"k":"K"},{"t":79.6,"v":54,"k":"K"},{"t":83.3,"v":33,"k":"K"},{"t":85.8,"v":21,"k":"K"},{"t":88.3,"v":23,"k":"K"},{"t":92,"v":25,"k":"K"},{"t":95.7,"v":36,"k":"K"},{"t":99.5,"v":47,"k":"K"},{"t":103.2,"v":46,"k":"K"},{"t":105.7,"v":42,"k":"K"},{"t":109.4,"v":49,"k":"K"},{"t":113.1,"v":59,"k":"K"},{"t":116.9,"v":62,"k":"K"},{"t":120.6,"v":71,"k":"K"},{"t":124.3,"v":91,"k":"K"},{"t":126.8,"v":94,"k":"K"},{"t":129.9,"v":87,"k":"K"},{"t":133,"v":57,"k":"K"},{"t":136.8,"v":23,"k":"K"},{"t":140.5,"v":13,"k":"K"},{"t":145.5,"v":6,"k":"K"},{"t":150.4,"v":5,"k":"K"},{"t":157.9,"v":5,"k":"K"},{"t":164.1,"v":4,"k":"K"},{"t":170.3,"v":4,"k":"K"},{"t":177.8,"v":5,"k":"K"},{"t":180.8,"v":6,"k":"K"},{"t":184.6,"v":15,"k":"K"},{"t":189.5,"v":33,"k":"K"},{"t":193.3,"v":54,"k":"K"},{"t":198.2,"v":75,"k":"K"},{"t":202,"v":69,"k":"K"},{"t":205.7,"v":62,"k":"K"},{"t":208.8,"v":44,"k":"K"},{"t":213.1,"v":18,"k":"K"},{"t":215.6,"v":10,"k":"K"},{"t":219.4,"v":10,"k":"K"},{"t":223.1,"v":16,"k":"K"},{"t":226.8,"v":25,"k":"K"},{"t":230.6,"v":37,"k":"K"},{"t":235.5,"v":57,"k":"K"},{"t":239.3,"v":72,"k":"K"},{"t":241.7,"v":75,"k":"K"},{"t":245.5,"v":71,"k":"K"},{"t":249.2,"v":65,"k":"K"},{"t":254.2,"v":57,"k":"K"},{"t":259.1,"v":51,"k":"K"},{"t":264.1,"v":51,"k":"K"},{"t":267.8,"v":57,"k":"K"},{"t":272.8,"v":60,"k":"K"},{"t":276.5,"v":74,"k":"K"},{"t":279,"v":76,"k":"K"},{"t":281.5,"v":72,"k":"K"},{"t":285.2,"v":59,"k":"K"},{"t":289,"v":57,"k":"K"},{"t":292.7,"v":52,"k":"K"},{"t":296.4,"v":46,"k":"K"},{"t":299.5,"v":41,"k":"K"},{"t":302.6,"v":23,"k":"K"},{"t":306.4,"v":5,"k":"K"},
      {"t":0.2,"v":16,"k":"U"},{"t":5,"v":16,"k":"U"},{"t":7.5,"v":42,"k":"U"},{"t":12.5,"v":44,"k":"U"},{"t":17.4,"v":41,"k":"U"},{"t":23.6,"v":40,"k":"U"},{"t":26.8,"v":42,"k":"U"},{"t":29.9,"v":71,"k":"U"},{"t":33,"v":94,"k":"U"},{"t":36.1,"v":106,"k":"U"},{"t":42.3,"v":106,"k":"U"},{"t":46,"v":100,"k":"U"},{"t":53.5,"v":98,"k":"U"},{"t":60.9,"v":92,"k":"U"},{"t":68.4,"v":90,"k":"U"},{"t":79.6,"v":87,"k":"U"},{"t":84.6,"v":96,"k":"U"},{"t":87.1,"v":95,"k":"U"},{"t":92,"v":61,"k":"U"},{"t":95.7,"v":41,"k":"U"},{"t":99.5,"v":47,"k":"U"},{"t":104.4,"v":51,"k":"U"},{"t":113.1,"v":54,"k":"U"},{"t":120.6,"v":64,"k":"U"},{"t":126.8,"v":92,"k":"U"},{"t":131.8,"v":98,"k":"U"},{"t":135.5,"v":105,"k":"U"},{"t":139.2,"v":106,"k":"U"},{"t":144.2,"v":92,"k":"U"},{"t":149.2,"v":37,"k":"U"},{"t":152.9,"v":15,"k":"U"},{"t":157.9,"v":6,"k":"U"},{"t":164.1,"v":4,"k":"U"},{"t":177.1,"v":5,"k":"U"},{"t":183.3,"v":6,"k":"U"},{"t":189.5,"v":37,"k":"U"},{"t":194.5,"v":66,"k":"U"},{"t":198.2,"v":81,"k":"U"},{"t":200.7,"v":84,"k":"U"},{"t":204.4,"v":83,"k":"U"},{"t":208.2,"v":78,"k":"U"},{"t":213.1,"v":86,"k":"U"},{"t":216.9,"v":74,"k":"U"},{"t":221.9,"v":47,"k":"U"},{"t":225.6,"v":27,"k":"U"},{"t":228.1,"v":23,"k":"U"},{"t":233,"v":34,"k":"U"},{"t":238,"v":57,"k":"U"},{"t":241.7,"v":76,"k":"U"},{"t":244.8,"v":85,"k":"U"},{"t":249.2,"v":82,"k":"U"},{"t":254.2,"v":79,"k":"U"},{"t":259.1,"v":79,"k":"U"},{"t":264.1,"v":71,"k":"U"},{"t":269.1,"v":61,"k":"U"},{"t":274.1,"v":57,"k":"U"},{"t":277.8,"v":74,"k":"U"},{"t":281.5,"v":79,"k":"U"},{"t":291.5,"v":79,"k":"U"},{"t":295.2,"v":74,"k":"U"},{"t":298.9,"v":66,"k":"U"},{"t":302.6,"v":66,"k":"U"},{"t":307,"v":62,"k":"U"},
      {"t":0.2,"v":5,"k":"L"},{"t":6.2,"v":5,"k":"L"},{"t":12.5,"v":-2,"k":"L"},{"t":18.7,"v":6,"k":"L"},{"t":23.6,"v":18,"k":"L"},{"t":27.4,"v":18,"k":"L"},{"t":30.5,"v":8,"k":"L"},{"t":33.6,"v":3,"k":"L"},{"t":37.3,"v":10,"k":"L"},{"t":42.3,"v":54,"k":"L"},{"t":46,"v":77,"k":"L"},{"t":53.5,"v":79,"k":"L"},{"t":60.9,"v":79,"k":"L"},{"t":64.7,"v":66,"k":"L"},{"t":75.9,"v":65,"k":"L"},{"t":79.6,"v":51,"k":"L"},{"t":83.3,"v":23,"k":"L"},{"t":87.1,"v":8,"k":"L"},{"t":93.3,"v":8,"k":"L"},{"t":97,"v":18,"k":"L"},{"t":100.7,"v":15,"k":"L"},{"t":105.7,"v":21,"k":"L"},{"t":113.1,"v":37,"k":"L"},{"t":121.9,"v":44,"k":"L"},{"t":128.1,"v":51,"k":"L"},{"t":133,"v":57,"k":"L"},{"t":135.5,"v":51,"k":"L"},{"t":138,"v":23,"k":"L"},{"t":141.7,"v":-4,"k":"L"},{"t":145.5,"v":-7,"k":"L"},{"t":150.4,"v":-4,"k":"L"},{"t":154.2,"v":3,"k":"L"},{"t":160.4,"v":4,"k":"L"},{"t":177.1,"v":4,"k":"L"},{"t":184.6,"v":0.5,"k":"L"},{"t":190.8,"v":-4,"k":"L"},{"t":195.7,"v":0.5,"k":"L"},{"t":200.7,"v":20,"k":"L"},{"t":208.2,"v":46,"k":"L"},{"t":211.9,"v":34,"k":"L"},{"t":215.6,"v":6,"k":"L"},{"t":220,"v":-4,"k":"L"},{"t":223.1,"v":0.5,"k":"L"},{"t":226.8,"v":6,"k":"L"},{"t":233,"v":4,"k":"L"},{"t":236.8,"v":5,"k":"L"},{"t":241.7,"v":16,"k":"L"},{"t":246.7,"v":41,"k":"L"},{"t":251.7,"v":57,"k":"L"},{"t":256.7,"v":47,"k":"L"},{"t":261.6,"v":45,"k":"L"},{"t":266.6,"v":47,"k":"L"},{"t":271.6,"v":47,"k":"L"},{"t":276.5,"v":45,"k":"L"},{"t":280.3,"v":47,"k":"L"},{"t":285.2,"v":52,"k":"L"},{"t":290.2,"v":54,"k":"L"},{"t":294,"v":51,"k":"L"},{"t":297.7,"v":37,"k":"L"},{"t":301.4,"v":23,"k":"L"},{"t":307,"v":3,"k":"L"},
      {"t":0.2,"v":12,"k":"M"},{"t":5,"v":12,"k":"M"},{"t":8.7,"v":16,"k":"M"},{"t":16.2,"v":28,"k":"M"},{"t":23.6,"v":31,"k":"M"},{"t":28.6,"v":44,"k":"M"},{"t":33.6,"v":71,"k":"M"},{"t":38.6,"v":86,"k":"M"},{"t":46,"v":89,"k":"M"},{"t":53.5,"v":86,"k":"M"},{"t":60.9,"v":84,"k":"M"},{"t":68.4,"v":77,"k":"M"},{"t":75.9,"v":76,"k":"M"},{"t":83.3,"v":64,"k":"M"},{"t":90.8,"v":44,"k":"M"},{"t":95.7,"v":31,"k":"M"},{"t":100.7,"v":28,"k":"M"},{"t":108.2,"v":34,"k":"M"},{"t":115.6,"v":44,"k":"M"},{"t":120.6,"v":52,"k":"M"},{"t":125.6,"v":66,"k":"M"},{"t":130.5,"v":77,"k":"M"},{"t":134.3,"v":77,"k":"M"},{"t":138,"v":71,"k":"M"},{"t":141.7,"v":54,"k":"M"},{"t":145.5,"v":27,"k":"M"},{"t":149.2,"v":13,"k":"M"},{"t":154.2,"v":6,"k":"M"},{"t":164.1,"v":4,"k":"M"},{"t":177.1,"v":4,"k":"M"},{"t":184.6,"v":6,"k":"M"},{"t":189.5,"v":16,"k":"M"},{"t":195.7,"v":37,"k":"M"},{"t":202,"v":54,"k":"M"},{"t":208.2,"v":61,"k":"M"},{"t":213.1,"v":51,"k":"M"},{"t":218.1,"v":32,"k":"M"},{"t":224.3,"v":16,"k":"M"},{"t":229.3,"v":16,"k":"M"},{"t":234.3,"v":21,"k":"M"},{"t":239.3,"v":36,"k":"M"},{"t":245.5,"v":57,"k":"M"},{"t":251.7,"v":67,"k":"M"},{"t":256.7,"v":68,"k":"M"},{"t":264.1,"v":61,"k":"M"},{"t":269.1,"v":56,"k":"M"},{"t":275.3,"v":64,"k":"M"},{"t":280.3,"v":66,"k":"M"},{"t":289,"v":66,"k":"M"},{"t":294,"v":62,"k":"M"},{"t":298.9,"v":51,"k":"M"},{"t":302.6,"v":41,"k":"M"},{"t":307,"v":32,"k":"M"}
    ],
    "cyan": [
      {"t":0.2,"y":0.18},{"t":1.3,"y":0.21},{"t":2.5,"y":0.19},{"t":3.8,"y":0.2},{"t":6.2,"y":0.19},{"t":8.7,"y":0.21},{"t":10.6,"y":0.19},{"t":12.5,"y":0.24},{"t":15,"y":0.17},{"t":17.4,"y":0.15},{"t":19.9,"y":0.15},{"t":22.4,"y":0.16},{"t":23.6,"y":0.14},{"t":25.5,"y":0.27},{"t":27.4,"y":0.36},{"t":29.2,"y":0.31},{"t":31.1,"y":0.31},{"t":33.6,"y":0.33},{"t":36.1,"y":0.34},{"t":37.3,"y":0.35},{"t":38.6,"y":0.27},{"t":39.4,"y":0.075},{"t":40.4,"y":0.16},{"t":42.3,"y":0.2},{"t":43.5,"y":0.19},{"t":46,"y":0.19},{"t":48.5,"y":0.21},{"t":51,"y":0.18},{"t":53.5,"y":0.2},{"t":55.3,"y":0.21},{"t":57.2,"y":0.19},{"t":59.7,"y":0.21},{"t":62.2,"y":0.19},{"t":64.1,"y":0.14},{"t":65.9,"y":0.22},{"t":69.6,"y":0.32},{"t":72.1,"y":0.3},{"t":75.9,"y":0.28},{"t":77.7,"y":0.31},{"t":80.2,"y":0.27},{"t":82.1,"y":0.31},{"t":84.6,"y":0.29},{"t":87.1,"y":0.32},{"t":89.5,"y":0.32},{"t":91.4,"y":0.2},{"t":93.3,"y":0.31},{"t":95.7,"y":0.32},{"t":97.6,"y":0.35},{"t":100.1,"y":0.31},{"t":102.6,"y":0.28},{"t":103.8,"y":0.22},{"t":105.7,"y":0.28},{"t":107,"y":0.25},{"t":108.2,"y":0.29},{"t":110.7,"y":0.29},{"t":113.1,"y":0.28},{"t":115.6,"y":0.24},{"t":116.9,"y":0.31},{"t":118.1,"y":0.22},{"t":120.6,"y":0.29},{"t":123.1,"y":0.35},{"t":125.6,"y":0.35},{"t":128.1,"y":0.34},{"t":129.9,"y":0.39},{"t":131.8,"y":0.31},{"t":133.7,"y":0.22},{"t":135.5,"y":0.26},{"t":138,"y":0.26},{"t":140.5,"y":0.22},{"t":141.7,"y":0.16},{"t":143,"y":-0.135},{"t":144.2,"y":-0.2},{"t":145.5,"y":-0.18},{"t":146.7,"y":-0.26},{"t":149.2,"y":-0.35},{"t":151.7,"y":-0.36},{"t":153.5,"y":-0.37},{"t":155.4,"y":-0.47},{"t":157.3,"y":-0.73},{"t":158.5,"y":-0.94},{"t":159.8,"y":-0.73},{"t":162.2,"y":-0.83},{"t":164.1,"y":-0.77},{"t":166,"y":-0.73},{"t":167.2,"y":-0.77},{"t":168,"y":-0.75},{"t":169.1,"y":-1.06},{"t":172.8,"y":-1.13},{"t":175.3,"y":-1.16},{"t":177.1,"y":-1.15},{"t":179.6,"y":-1.15},{"t":181,"y":-1.25},{"t":189,"y":-1.25},{"t":193.3,"y":-1.16},{"t":195.1,"y":-0.96},{"t":197.6,"y":-0.77},{"t":200.1,"y":-0.85},{"t":202,"y":-0.88},{"t":204.4,"y":-0.85},{"t":206.3,"y":-0.89},{"t":208.2,"y":-1.0},{"t":210,"y":-0.91},{"t":212.5,"y":-0.96},{"t":214.4,"y":-0.93},{"t":218.1,"y":-0.93},{"t":219.4,"y":-0.96},{"t":221.2,"y":-0.79},{"t":222.5,"y":-0.89},{"t":224.3,"y":-0.85},{"t":226.8,"y":-0.8},{"t":229.3,"y":-0.81},{"t":231.8,"y":-0.81},{"t":234.3,"y":-0.69},{"t":235.5,"y":-0.72},{"t":238,"y":-0.62},{"t":240.5,"y":-0.67},{"t":243,"y":-0.67},{"t":246.7,"y":-0.66},{"t":248,"y":-0.7},{"t":250.4,"y":-0.79},{"t":257.9,"y":-0.77},{"t":259.1,"y":-0.81},{"t":262.9,"y":-0.71},{"t":265.4,"y":-0.64},{"t":270.3,"y":-0.64},{"t":272.8,"y":-0.73},{"t":275.3,"y":-0.61},{"t":277.8,"y":-0.63},{"t":280.3,"y":-0.65},{"t":282.8,"y":-0.65},{"t":285.9,"y":-0.62},{"t":289,"y":-0.64},{"t":292.7,"y":-0.65},{"t":296.4,"y":-0.65},{"t":298.9,"y":-0.74},{"t":301.4,"y":-0.76},{"t":303.9,"y":-0.75},{"t":306.4,"y":-0.75}
    ]
  },
  "vconcat": [
    {
      "width": 1051,
      "height": 111,
      "layer": [
        {
          "data": {"values": [{"t0": -16.1, "t1": 306.6, "v0": -3.8, "v1": 45.4}]},
          "mark": {"type": "rect", "fill": "#f8e3e3", "stroke": "#f2b4b4", "strokeWidth": 1.5, "clip": false},
          "encoding": {
            "x": {"field": "t0", "type": "quantitative", "scale": {"domain": [0, 353], "nice": false, "zero": false}, "axis": null},
            "x2": {"field": "t1"},
            "y": {"field": "v0", "type": "quantitative", "scale": {"domain": [-8.2, 104.7], "nice": false, "zero": false}, "axis": null},
            "y2": {"field": "v1"}
          }
        },
        {
          "data": {"values": [{"v": 80}, {"v": 20}]},
          "mark": {"type": "rule", "color": "#6a6a6a", "strokeWidth": 1},
          "encoding": {"y": {"field": "v", "type": "quantitative", "axis": null}}
        },
        {
          "data": {"values": [{"v": 51.1}, {"v": 48.3}]},
          "mark": {"type": "rule", "color": "#ff00ff", "strokeWidth": 1.5},
          "encoding": {"y": {"field": "v", "type": "quantitative", "axis": null}}
        },
        {
          "data": {"values": [{"v": 49.8}]},
          "mark": {"type": "rule", "color": "#888888", "strokeWidth": 1, "strokeDash": [8, 3, 2, 3]},
          "encoding": {"y": {"field": "v", "type": "quantitative", "axis": null}}
        },
        {
          "data": {"name": "stoch"},
          "transform": [{"filter": "datum.k == 'U' || datum.k == 'L'"}],
          "mark": {"type": "line", "color": "#ff1a1a", "strokeWidth": 1.3, "interpolate": "monotone", "clip": true},
          "encoding": {
            "x": {"field": "t", "type": "quantitative", "axis": null},
            "y": {"field": "v", "type": "quantitative", "axis": null},
            "detail": {"field": "k"}
          }
        },
        {
          "data": {"name": "stoch"},
          "transform": [{"filter": "datum.k == 'M'"}],
          "mark": {"type": "line", "color": "#ff3030", "strokeWidth": 1.2, "strokeDash": [2, 2], "interpolate": "monotone", "clip": true},
          "encoding": {
            "x": {"field": "t", "type": "quantitative", "axis": null},
            "y": {"field": "v", "type": "quantitative", "axis": null}
          }
        },
        {
          "data": {"name": "stoch"},
          "transform": [{"filter": "datum.k == 'K'"}],
          "mark": {"type": "line", "color": "#505050", "strokeWidth": 2.2, "clip": true},
          "encoding": {
            "x": {"field": "t", "type": "quantitative", "axis": null},
            "y": {"field": "v", "type": "quantitative",
                  "axis": {"orient": "right", "values": [20, 50, 80], "labelPadding": 3, "title": null, "domain": true, "domainColor": "#b8b8b8", "domainDash": [1, 1], "ticks": true, "tickSize": 3, "tickColor": "#999999"}}
          }
        },
        {
          "data": {"values": [{"t": 295, "v": 46.4}]},
          "mark": {"type": "point", "shape": "M -1 0 A 1 0.73 0 1 0 1 0 A 1 0.73 0 1 0 -1 0 Z", "size": 1089, "filled": false, "stroke": "#ee1111", "strokeWidth": 3, "opacity": 1},
          "encoding": {
            "x": {"field": "t", "type": "quantitative", "axis": null},
            "y": {"field": "v", "type": "quantitative", "axis": null}
          }
        }
      ],
      "resolve": {"axis": {"y": "independent"}}
    },
    {
      "width": 1051,
      "height": 385,
      "layer": [
        {
          "data": {"name": "gold"},
          "mark": {"type": "line", "color": "#f4dfc1", "strokeWidth": 3, "clip": true},
          "encoding": {
            "x": {"field": "t", "type": "quantitative", "scale": {"domain": [0, 353], "nice": false, "zero": false}, "axis": null},
            "y": {"field": "g", "type": "quantitative", "scale": {"domain": [159.088, 164.213], "nice": false, "zero": false},
                  "axis": {"orient": "left", "values": [159.5,159.75,160,160.25,160.5,160.75,161,161.25,161.5,161.75,162,162.25,162.5,162.75,163,163.25,163.5,163.75,164],
                           "format": ".2f", "labelPadding": 2, "title": null, "ticks": true, "tickSize": 3, "tickColor": "#999999"}}
          }
        },
        {
          "layer": [
            {
              "data": {"values": [{"t0": 297.2, "t1": 352.8, "p0": 41.99, "p1": 42.31}]},
              "mark": {"type": "rect", "fill": "#dddddd", "stroke": "#c4c4c4", "strokeWidth": 2},
              "encoding": {
                "x": {"field": "t0", "type": "quantitative", "axis": null},
                "x2": {"field": "t1"},
                "y": {"field": "p0", "type": "quantitative", "scale": {"domain": [41.107, 46.024], "nice": false, "zero": false}, "axis": null},
                "y2": {"field": "p1"}
              }
            },
            {
              "data": {"values": [{"t0": 65, "t1": 352.5, "p": 45.95}, {"t0": 65, "t1": 352.5, "p": 44.19}, {"t0": 65, "t1": 352.5, "p": 43.65}, {"t0": 65, "t1": 352.5, "p": 43.1}]},
              "mark": {"type": "rule", "color": "#ababab", "strokeWidth": 1.5},
              "encoding": {
                "x": {"field": "t0", "type": "quantitative", "axis": null},
                "x2": {"field": "t1"},
                "y": {"field": "p", "type": "quantitative", "axis": null}
              }
            },
            {
              "data": {"values": [{"t": 351.7, "p": 45.95, "lab": "100.0%: 45.95"}, {"t": 351.7, "p": 44.19, "lab": "61.8%: 44.19"}, {"t": 351.7, "p": 43.65, "lab": "50.0%: 43.65"}, {"t": 351.7, "p": 43.11, "lab": "38.2%: 43.10"}, {"t": 351.7, "p": 41.35, "lab": "0.0%: 41.35"}]},
              "mark": {"type": "text", "align": "right", "baseline": "alphabetic", "dy": -3, "fontSize": 11, "font": "DejaVu Sans", "color": "#a8a8a8"},
              "encoding": {
                "x": {"field": "t", "type": "quantitative", "axis": null},
                "y": {"field": "p", "type": "quantitative", "axis": null},
                "text": {"field": "lab"}
              }
            },
            {
              "data": {"values": [{"p": 41.286}]},
              "mark": {"type": "rule", "color": "#bbbbbb", "strokeWidth": 1.5, "strokeDash": [1, 1]},
              "encoding": {"y": {"field": "p", "type": "quantitative", "axis": null}}
            },
            {
              "data": {"values": [{"p": 43.11}, {"p": 42.89}, {"p": 41.99}]},
              "mark": {"type": "rule", "color": "#f03a3a", "strokeWidth": 2, "strokeDash": [5, 3]},
              "encoding": {"y": {"field": "p", "type": "quantitative",
                                 "axis": {"orient": "right", "values": [41.5,41.75,42,42.25,42.5,42.75,43,43.25,43.5,43.75,44,44.25,44.5,44.75,45,45.25,45.5,45.75],
                                          "format": ".2f", "labelPadding": 3, "title": null, "domain": true, "domainColor": "#b8b8b8", "domainDash": [1, 1], "ticks": true, "tickSize": 3, "tickColor": "#999999"}}}
            },
            {
              "data": {"values": [{"p": 41.35}]},
              "mark": {"type": "rule", "color": "#1fbf1f", "strokeWidth": 2, "strokeDash": [5, 3]},
              "encoding": {"y": {"field": "p", "type": "quantitative", "axis": null}}
            },
            {
              "data": {"name": "ma"},
              "transform": [{"filter": "datum.k == 'O'"}],
              "mark": {"type": "line", "color": "#d9a030", "strokeWidth": 2, "interpolate": "monotone"},
              "encoding": {
                "x": {"field": "t", "type": "quantitative", "axis": null},
                "y": {"field": "p", "type": "quantitative", "axis": null}
              }
            },
            {
              "data": {"name": "ma"},
              "transform": [{"filter": "datum.k == 'R'"}],
              "mark": {"type": "line", "color": "#ef2020", "strokeWidth": 2, "interpolate": "monotone"},
              "encoding": {
                "x": {"field": "t", "type": "quantitative", "axis": null},
                "y": {"field": "p", "type": "quantitative", "axis": null}
              }
            },
            {
              "data": {"name": "ma"},
              "transform": [{"filter": "datum.k == 'G'"}],
              "mark": {"type": "line", "color": "#1d7a1d", "strokeWidth": 2, "interpolate": "monotone"},
              "encoding": {
                "x": {"field": "t", "type": "quantitative", "axis": null},
                "y": {"field": "p", "type": "quantitative", "axis": null}
              }
            },
            {
              "data": {"name": "bars"},
              "mark": {"type": "rule", "strokeWidth": 1},
              "encoding": {
                "x": {"field": "t", "type": "quantitative", "axis": null},
                "y": {"field": "l", "type": "quantitative", "axis": null},
                "y2": {"field": "h"},
                "color": {"condition": {"test": "datum.c < datum.o", "value": "#cc0033"}, "value": "#000000"}
              }
            },
            {
              "data": {"name": "bars"},
              "mark": {"type": "bar", "width": 3, "strokeWidth": 1},
              "encoding": {
                "x": {"field": "t", "type": "quantitative", "axis": null},
                "y": {"field": "o", "type": "quantitative", "axis": null},
                "y2": {"field": "c"},
                "fill": {"condition": {"test": "datum.c < datum.o", "value": "#cc0033"}, "value": "#ffffff"},
                "stroke": {"condition": {"test": "datum.c < datum.o", "value": "#cc0033"}, "value": "#000000"}
              }
            },
            {
              "data": {"values": [{"t": 0.8, "p": 45.95, "lab": "GDX (30 min)"}]},
              "mark": {"type": "text", "align": "left", "baseline": "middle", "fontSize": 10.5, "font": "DejaVu Sans", "color": "#000000"},
              "encoding": {
                "x": {"field": "t", "type": "quantitative", "axis": null},
                "y": {"field": "p", "type": "quantitative", "axis": null},
                "text": {"field": "lab"}
              }
            },
            {
              "data": {"values": [{"t": 26.2, "p": 45.95, "lab": "9/13/12 = QE3"}]},
              "mark": {"type": "text", "align": "left", "baseline": "middle", "fontSize": 10.5, "fontWeight": "bold", "font": "DejaVu Sans", "color": "#a0a0a0"},
              "encoding": {
                "x": {"field": "t", "type": "quantitative", "axis": null},
                "y": {"field": "p", "type": "quantitative", "axis": null},
                "text": {"field": "lab"}
              }
            }
          ],
          "resolve": {"axis": {"y": "independent"}}
        }
      ],
      "resolve": {"scale": {"y": "independent"}}
    },
    {
      "width": 1051,
      "height": 114,
      "layer": [
        {
          "data": {"name": "bars"},
          "mark": {"type": "bar", "width": 3, "strokeWidth": 0.8},
          "encoding": {
            "x": {"field": "t", "type": "quantitative", "scale": {"domain": [0, 353], "nice": false, "zero": false},
                  "axis": {"orient": "top", "values": [0,13,26,39,52,65,78,91,104,117,130,143,156,169,182,195,208,221,234,247,260,273,286,299,312,325,338,351],
                           "labelExpr": "['8','9','10','11','14','15','16','17','18','22','23','24','25','28','29','30','31','Feb','4','5','6','7','8','11','12','13','14','15'][round(datum.value/13)]",
                           "labelFontWeight": {"condition": {"test": "datum.value == 221", "value": "bold"}, "value": "normal"},
                           "labelFlush": false, "labelOverlap": false, "labelPadding": 3, "title": null}},
            "y": {"field": "v", "type": "quantitative", "scale": {"domain": [0, 5.76], "nice": false}, "axis": null},
            "y2": {"datum": 0},
            "fill": {"condition": {"test": "datum.c < datum.o", "value": "#e39999"}, "value": "#a3a3a3"},
            "stroke": {"condition": {"test": "datum.c < datum.o", "value": "#c84a5c"}, "value": "#777777"}
          }
        },
        {
          "data": {"values": [{"v": 4}]},
          "mark": {"type": "rule", "color": "#00008b", "strokeWidth": 1.5},
          "encoding": {"y": {"field": "v", "type": "quantitative",
                             "axis": {"orient": "right", "values": [1, 2, 3, 4, 5], "labelExpr": "datum.value + 'M'", "labelPadding": 3, "title": null, "domain": true, "domainColor": "#b8b8b8", "domainDash": [1, 1], "ticks": true, "tickSize": 3, "tickColor": "#999999"}}}
        },
        {
          "data": {"values": [{"t": 168.8, "v": 5.35}, {"t": 222.5, "v": 2.76}]},
          "mark": {"type": "line", "color": "#66dd55", "strokeWidth": 3},
          "encoding": {
            "x": {"field": "t", "type": "quantitative", "axis": null},
            "y": {"field": "v", "type": "quantitative", "axis": null}
          }
        },
        {
          "data": {"values": [{"t": 142.7, "v": 3.94}, {"t": 155.4, "v": 4.02}]},
          "mark": {"type": "point", "shape": "circle", "size": 440, "filled": true, "fill": "#8ee08e", "fillOpacity": 0.35, "stroke": "#8ee08e", "strokeWidth": 2, "strokeOpacity": 0.8},
          "encoding": {
            "x": {"field": "t", "type": "quantitative", "axis": null},
            "y": {"field": "v", "type": "quantitative", "axis": null}
          }
        },
        {
          "data": {"values": [{"t": 168, "v": 4.55}]},
          "mark": {"type": "point", "shape": "M -0.62 0 A 0.62 1 0 1 0 0.62 0 A 0.62 1 0 1 0 -0.62 0 Z", "size": 1936, "filled": true, "fill": "#8ee08e", "fillOpacity": 0.35, "stroke": "#8ee08e", "strokeWidth": 2, "strokeOpacity": 0.8},
          "encoding": {
            "x": {"field": "t", "type": "quantitative", "axis": null},
            "y": {"field": "v", "type": "quantitative", "axis": null}
          }
        }
      ],
      "resolve": {"axis": {"x": "independent", "y": "independent"}}
    },
    {
      "width": 1051,
      "height": 131,
      "layer": [
        {
          "data": {"name": "bars"},
          "mark": {"type": "bar", "width": 3, "fill": "#c6e2c1", "stroke": "#8dbd88", "strokeWidth": 0.8, "clip": true},
          "encoding": {
            "x": {"field": "t", "type": "quantitative", "scale": {"domain": [0, 353], "nice": false, "zero": false}, "axis": null},
            "y": {"field": "m", "type": "quantitative", "scale": {"domain": [-1.161, 0.497], "nice": false, "zero": false}, "axis": null},
            "y2": {"datum": 0}
          }
        },
        {
          "data": {"values": [{"y": 0}, {"y": -0.1}, {"y": -0.2}]},
          "mark": {"type": "rule", "color": "#cc0000", "strokeWidth": 1.5},
          "encoding": {"y": {"field": "y", "type": "quantitative",
                             "axis": {"orient": "right", "values": [0.25, 0, -0.25, -0.5, -0.75, -1], "format": ".2f", "labelPadding": 3, "title": null, "domain": true, "domainColor": "#b8b8b8", "domainDash": [1, 1], "ticks": true, "tickSize": 3, "tickColor": "#999999"}}}
        },
        {
          "data": {"name": "cyan"},
          "mark": {"type": "line", "color": "#70f0f0", "strokeWidth": 2, "clip": true},
          "encoding": {
            "x": {"field": "t", "type": "quantitative", "axis": null},
            "y": {"field": "y", "type": "quantitative", "axis": null}
          }
        }
      ],
      "resolve": {"axis": {"y": "independent"}}
    }
  ],
  "config": {
    "view": {"stroke": "#b8b8b8", "strokeWidth": 1},
    "axis": {"labelFont": "DejaVu Sans", "labelFontSize": 11, "labelColor": "#111111", "grid": false, "ticks": false, "domain": false},
    "text": {"font": "DejaVu Sans"}
  }
}
